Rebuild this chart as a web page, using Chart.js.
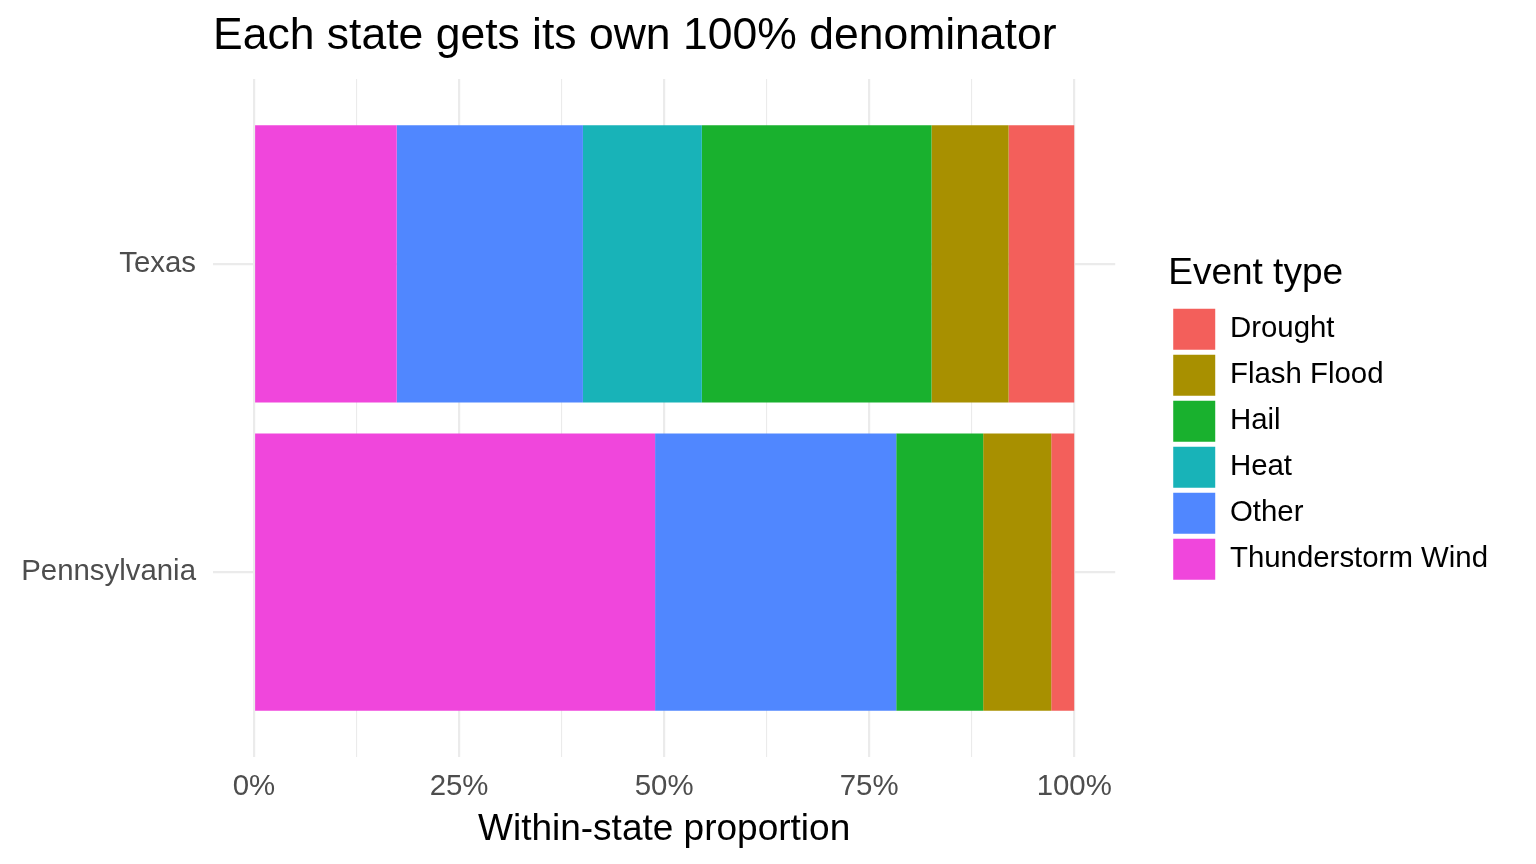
<!DOCTYPE html>
<html>
<head>
<meta charset="utf-8">
<title>Each state gets its own 100% denominator</title>
<script src="https://cdn.jsdelivr.net/npm/chart.js@4.4.1/dist/chart.umd.min.js"></script>
<style>
  html, body { margin: 0; padding: 0; background: #ffffff; }
  #wrap { width: 1536px; height: 864px; }
</style>
</head>
<body>
<div id="wrap"><canvas id="chart"></canvas></div>
<script>
// states, top to bottom
const states = ["Texas", "Pennsylvania"];

// share of events within each state (%), stacked left to right
const thunderstormWind = [17.4, 48.9];
const other = [22.7, 29.4];
const heat = [14.5, 0];
const hail = [28.0, 10.6];
const flashFlood = [9.4, 8.3];
const drought = [8.0, 2.8];

const xTicks = [0, 12.5, 25, 37.5, 50, 62.5, 75, 87.5, 100];
const xLabels = ["0%", "", "25%", "", "50%", "", "75%", "", "100%"];

const FONT = "'Liberation Sans', Arial, Helvetica, sans-serif";

// turn a series into {x, y} points on the numeric state axis (1 = Texas, 2 = Pennsylvania)
const toPoints = (values) => values.map((v, i) => ({ x: v, y: i + 1 }));

const makeSet = (label, values, color) => ({
  label: label,
  data: toPoints(values),
  backgroundColor: color,
  borderWidth: 0,
  xAxisID: "x",
  yAxisID: "y",
  categoryPercentage: 0.9,
  barPercentage: 1.0,
});

// leave some empty space between the panel and the legend
const legendGap = {
  id: "legendGap",
  afterLayout(chart) {
    const gap = 53;
    const x = chart.scales.x;
    chart.chartArea.right -= gap;
    chart.chartArea.width -= gap;
    x.right -= gap;
    x.width -= gap;
    x.configure();
  },
};

new Chart(document.getElementById("chart"), {
  type: "bar",
  plugins: [legendGap],
  data: {
    datasets: [
      makeSet("Thunderstorm Wind", thunderstormWind, "#F046DC"),
      makeSet("Other", other, "#5087FF"),
      makeSet("Heat", heat, "#18B3B8"),
      makeSet("Hail", hail, "#19B12E"),
      makeSet("Flash Flood", flashFlood, "#A89000"),
      makeSet("Drought", drought, "#F35F5B"),
    ],
  },
  options: {
    indexAxis: "y",
    responsive: true,
    maintainAspectRatio: false,
    animation: false,
    layout: { padding: { left: 0, right: 38, top: 0, bottom: 0 } },
    scales: {
      x: {
        type: "linear",
        stacked: true,
        min: -5,
        max: 105,
        afterBuildTicks: (scale) => {
          scale.ticks = xTicks.map((v) => ({ value: v }));
        },
        afterFit: (scale) => {
          scale.height = 107;
        },
        ticks: {
          autoSkip: false,
          maxRotation: 0,
          padding: 12,
          color: "#4D4D4D",
          font: { family: FONT, size: 29.4 },
          callback: (value) => xLabels[xTicks.indexOf(value)],
        },
        grid: {
          color: "#EBEBEB",
          lineWidth: (ctx) => (ctx.tick && ctx.tick.value % 25 === 0 ? 2.2 : 1.1),
          drawTicks: false,
        },
        border: { display: false },
        title: {
          display: true,
          text: "Within-state proportion",
          color: "#000000",
          font: { family: FONT, size: 37 },
          padding: { top: 0, bottom: 12 },
        },
      },
      y: {
        type: "linear",
        stacked: true,
        reverse: true,
        offset: false,
        min: 0.4,
        max: 2.6,
        afterBuildTicks: (scale) => {
          scale.ticks = states.map((s, i) => ({ value: i + 1 }));
        },
        afterFit: (scale) => {
          scale.width = 213;
        },
        ticks: {
          autoSkip: false,
          padding: 17,
          color: "#4D4D4D",
          font: { family: FONT, size: 29.4 },
          callback: (value) => states[value - 1],
        },
        grid: {
          offset: false,
          color: "#EBEBEB",
          lineWidth: 2.2,
          drawTicks: false,
        },
        border: { display: false },
      },
    },
    plugins: {
      title: {
        display: true,
        text: "Each state gets its own 100% denominator",
        align: "start",
        fullSize: false,
        color: "#000000",
        font: { family: FONT, size: 44.5, weight: "normal" },
        padding: { top: 10, bottom: 15.6 },
      },
      legend: {
        position: "right",
        align: "center",
        fullSize: false,
        reverse: true,
        title: {
          display: true,
          text: "Event type",
          position: "start",
          color: "#000000",
          font: { family: FONT, size: 37 },
          padding: { top: 4, bottom: 4 },
        },
        labels: {
          boxWidth: 42,
          boxHeight: 41,
          padding: 5,
          color: "#000000",
          font: { family: FONT, size: 29.4 },
        },
      },
      tooltip: { enabled: false },
    },
  },
});
</script>
</body>
</html>
